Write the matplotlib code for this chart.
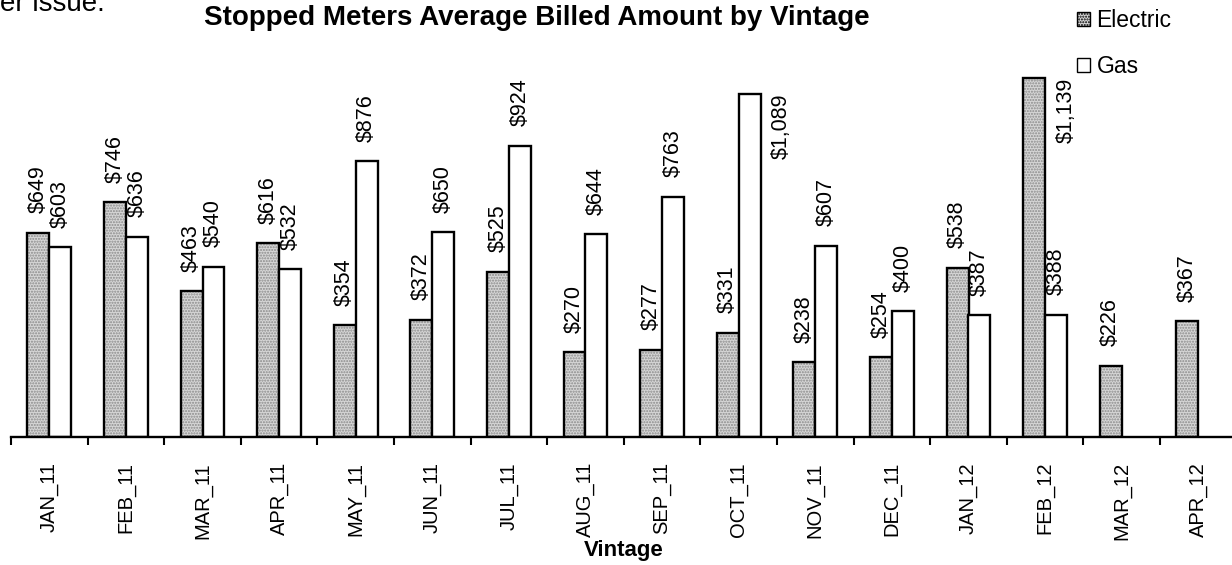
import matplotlib
matplotlib.use("Agg")
import matplotlib.pyplot as plt
from matplotlib.patches import Patch
import numpy as np

plt.rcParams['font.family'] = ['Liberation Sans', 'DejaVu Sans']

vintages = ['JAN_11', 'FEB_11', 'MAR_11', 'APR_11', 'MAY_11', 'JUN_11', 'JUL_11', 'AUG_11',
            'SEP_11', 'OCT_11', 'NOV_11', 'DEC_11', 'JAN_12', 'FEB_12', 'MAR_12', 'APR_12']
electric = [649, 746, 463, 616, 354, 372, 525, 270, 277, 331, 238, 254, 538, 1139, 226, 367]
gas = [603, 636, 540, 532, 876, 650, 924, 644, 763, 1089, 607, 400, 387, 388, np.nan, np.nan]

W, H = 1232, 565
fig = plt.figure(figsize=(W / 100, H / 100), dpi=100)
ax = fig.add_axes([11 / W, (H - 437) / H, 16 * 76.6 / W, 378 / H])

x = np.arange(len(vintages))
bw = 0.287
elec_fill = '#d6d6d6'

# electric: stippled fill drawn first, black outline on top
ax.bar(x - bw / 2, electric, bw, color=elec_fill, edgecolor='#8a8a8a', hatch='......', linewidth=0)
ax.bar(x - bw / 2, electric, bw, fill=False, edgecolor='black', linewidth=1.7)
ax.bar(x + bw / 2, gas, bw, color='white', edgecolor='black', linewidth=1.7)

ax.set_xlim(-0.5, len(vintages) - 0.5)
ax.set_ylim(0, 1200)

for s in ['top', 'right', 'left']:
    ax.spines[s].set_visible(False)
ax.spines['bottom'].set_linewidth(1.7)
ax.set_yticks([])

ax.set_xticks(x)
ax.set_xticklabels(vintages, rotation=90, fontsize=14.5)
ax.tick_params(axis='x', which='major', length=0, pad=18)
ax.set_xticks(np.arange(len(vintages) + 1) - 0.5, minor=True)
ax.tick_params(axis='x', which='minor', length=6, width=1.5, direction='out')
ax.set_xlabel('Vintage', fontsize=16, fontweight='bold', labelpad=0)

# value labels above bars; labels that would run off the top go beside the bar
labels = []
for xs, vals in [(x - bw / 2, electric), (x + bw / 2, gas)]:
    for xi, v in zip(xs, vals):
        if np.isnan(v):
            continue
        t = ax.annotate(f'${v:,.0f}', (xi, v), xytext=(0, 14), textcoords='offset points',
                        rotation=90, ha='center', va='bottom', fontsize=15.5)
        labels.append((t, xi, v))

fig.canvas.draw()
r = fig.canvas.get_renderer()
top = ax.get_window_extent(r).y1
for t, xi, v in labels:
    if t.get_window_extent(r).y1 > top:
        t.xy = (xi + bw / 2, v)
        t.set_position((15, 0))
        t.set_va('top')

fig.text(537 / W, 1 - 18 / H, 'Stopped Meters Average Billed Amount by Vintage',
         ha='center', va='center', fontsize=20, fontweight='bold')
fig.text(0, 1 - 11 / H, 'er issue.', ha='left', va='baseline', fontsize=20)

handles = [Patch(facecolor=elec_fill, edgecolor='black', hatch='......', linewidth=1),
           Patch(facecolor='white', edgecolor='black', linewidth=1)]
fig.legend(handles, ['Electric', 'Gas'], loc='upper left', bbox_to_anchor=(1077 / W, 1 - 9 / H),
           frameon=False, fontsize=16.5, handlelength=0.55, handleheight=0.55, handletextpad=0.3,
           labelspacing=1.0, borderpad=0, borderaxespad=0)

fig.savefig('out.png', dpi=100)
